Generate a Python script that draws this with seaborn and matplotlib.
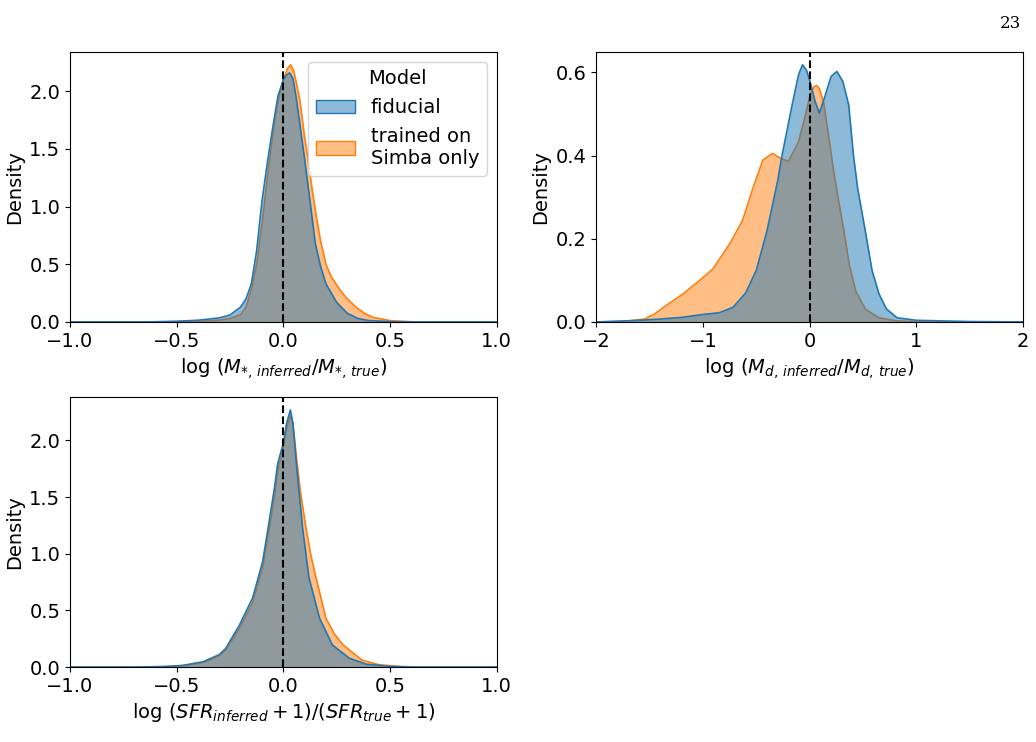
import numpy as np
import pandas as pd
import matplotlib
matplotlib.use("Agg")
import matplotlib.pyplot as plt
from matplotlib.patches import Patch
from matplotlib.colors import to_rgba
import seaborn as sns

# density curves (x grid, density)
# panel 1: log(M*_inferred / M*_true)
mstar_fid_x = [-1.0, -0.65, -0.5, -0.4, -0.3, -0.25, -0.2, -0.175, -0.15, -0.125, -0.1, -0.075, -0.05, -0.025,
               0.0, 0.015, 0.03, 0.045, 0.06, 0.08, 0.1, 0.125, 0.15, 0.175, 0.2, 0.25, 0.3, 0.35, 0.4, 0.5,
               0.6, 1.0]
mstar_fid_y = [0.0, 0.0, 0.006, 0.015, 0.035, 0.06, 0.13, 0.2, 0.33, 0.62, 1.05, 1.38, 1.68, 1.96,
               2.10, 2.14, 2.16, 2.11, 1.95, 1.68, 1.41, 1.05, 0.68, 0.48, 0.33, 0.17, 0.075, 0.03, 0.012, 0.003,
               0.0, 0.0]
mstar_sim_x = [-1.0, -0.6, -0.4, -0.3, -0.25, -0.2, -0.175, -0.15, -0.125, -0.1, -0.075, -0.05, -0.025, 0.0,
               0.02, 0.035, 0.05, 0.077, 0.1, 0.116, 0.135, 0.155, 0.175, 0.2, 0.225, 0.265, 0.3, 0.34,
               0.38, 0.42, 0.5, 0.6, 0.65, 1.0]
mstar_sim_y = [0.0, 0.0, 0.005, 0.015, 0.03, 0.065, 0.13, 0.28, 0.5, 0.85, 1.25, 1.62, 1.92, 2.10,
               2.20, 2.23, 2.17, 1.93, 1.6, 1.41, 1.15, 0.91, 0.70, 0.50, 0.39, 0.28, 0.2, 0.13,
               0.075, 0.04, 0.012, 0.002, 0.0, 0.0]

# panel 2: log(Md_inferred / Md_true)
mdust_fid_x = [-2.0, -1.6, -1.4, -1.2, -1.0, -0.85, -0.72, -0.6, -0.5, -0.4, -0.3, -0.26, -0.165, -0.105,
               -0.068, -0.03, 0.0, 0.05, 0.09, 0.14, 0.2, 0.255, 0.31, 0.365, 0.41, 0.45, 0.52, 0.585,
               0.65, 0.72, 0.82, 1.0, 1.5, 2.0]
mdust_fid_y = [0.0, 0.004, 0.007, 0.011, 0.018, 0.022, 0.035, 0.07, 0.125, 0.22, 0.34, 0.40, 0.522, 0.594,
               0.618, 0.605, 0.58, 0.53, 0.502, 0.54, 0.59, 0.602, 0.578, 0.522, 0.40, 0.32, 0.22, 0.123,
               0.067, 0.031, 0.01, 0.004, 0.001, 0.0]
mdust_sim_x = [-2.0, -1.75, -1.55, -1.45, -1.35, -1.19, -1.0, -0.91, -0.75, -0.63, -0.54, -0.44, -0.35,
               -0.27, -0.2, -0.105, -0.04, 0.005, 0.04, 0.066, 0.09, 0.129, 0.18, 0.225, 0.27, 0.32,
               0.37, 0.43, 0.52, 0.65, 0.8, 1.0, 2.0]
mdust_sim_y = [0.0, 0.001, 0.007, 0.02, 0.039, 0.067, 0.107, 0.127, 0.188, 0.244, 0.316, 0.389, 0.405,
               0.393, 0.386, 0.433, 0.498, 0.546, 0.566, 0.568, 0.56, 0.53, 0.441, 0.361, 0.292, 0.22,
               0.139, 0.075, 0.031, 0.01, 0.003, 0.0, 0.0]

# panel 3: log(SFR_inferred + 1)/(SFR_true + 1)
sfr_fid_x = [-1.0, -0.7, -0.55, -0.47, -0.376, -0.3, -0.27, -0.206, -0.144, -0.097, -0.066, -0.04, -0.027, -0.01,
             0.0, 0.015, 0.033, 0.045, 0.06, 0.09, 0.12, 0.17, 0.23, 0.31, 0.39, 0.5, 0.6, 1.0]
sfr_fid_y = [0.0, 0.0, 0.005, 0.015, 0.047, 0.11, 0.165, 0.37, 0.61, 0.93, 1.29, 1.6, 1.79, 1.91,
             1.97, 2.15, 2.27, 2.15, 1.82, 1.23, 0.79, 0.43, 0.195, 0.077, 0.025, 0.006, 0.0, 0.0]
sfr_sim_x = [-1.0, -0.7, -0.55, -0.47, -0.376, -0.3, -0.27, -0.206, -0.144, -0.097, -0.066, -0.04, -0.027, -0.01,
             0.0, 0.015, 0.033, 0.045, 0.06, 0.08, 0.106, 0.13, 0.153, 0.2, 0.24, 0.28, 0.37, 0.45, 0.55,
             0.65, 1.0]
sfr_sim_y = [0.0, 0.0, 0.004, 0.012, 0.04, 0.1, 0.15, 0.34, 0.57, 0.88, 1.22, 1.52, 1.72, 1.86,
             1.94, 2.10, 2.22, 2.15, 1.88, 1.55, 1.23, 0.98, 0.79, 0.43, 0.29, 0.195, 0.06, 0.02, 0.005,
             0.0, 0.0]

model_labels = ["fiducial", "trained on\nSimba only"]
xlabels = [r"$\log\,(M_{*,\,inferred}/M_{*,\,true})$",
           r"$\log\,(M_{d,\,inferred}/M_{d,\,true})$",
           r"$\log\,(SFR_{inferred}+1)/(SFR_{true}+1)$"]
xlims = [(-1, 1), (-2, 2), (-1, 1)]

panels = [
    [(mstar_fid_x, mstar_fid_y), (mstar_sim_x, mstar_sim_y)],
    [(mdust_fid_x, mdust_fid_y), (mdust_sim_x, mdust_sim_y)],
    [(sfr_fid_x, sfr_fid_y), (sfr_sim_x, sfr_sim_y)],
]

plt.rcParams.update({"font.size": 14, "axes.labelsize": 14,
                     "xtick.labelsize": 14, "ytick.labelsize": 14})
colors = sns.color_palette("tab10")[:2]

fig, axs = plt.subplots(2, 2, figsize=(10.36, 7.42), dpi=100)
fig.subplots_adjust(left=0.0676, right=0.9875, top=0.930, bottom=0.101, wspace=0.234, hspace=0.278)
axs = axs.ravel()
axs[3].axis("off")

for i, ax in enumerate(axs[:3]):
    # second model drawn first so the fiducial one sits on top (as in the reference)
    for j in [1, 0]:
        x, y = panels[i][j]
        df = pd.DataFrame({"x": x, "density": y})
        z = 1 + 0.2 * (1 - j)
        ax.fill_between(df["x"], df["density"], color=to_rgba(colors[j], 0.5), linewidth=0, zorder=z)
        sns.lineplot(data=df, x="x", y="density", color=colors[j], linewidth=1.2, ax=ax, zorder=z + 0.1)
    ax.axvline(0, color="black", linestyle="--", linewidth=1.5, zorder=5)
    ax.set_xlim(*xlims[i])
    ax.set_ylim(bottom=0)
    ax.set_xlabel(xlabels[i])
    ax.set_ylabel("Density")

handles = [Patch(facecolor=to_rgba(c, 0.5), edgecolor=c) for c in colors]
axs[0].legend(handles, model_labels, title="Model", loc="upper right", fontsize=14, title_fontsize=14)

fig.text(0.975, 0.968, "23", family="DejaVu Serif", fontsize=12, ha="center", va="center")

fig.savefig("out.png", dpi=100)
